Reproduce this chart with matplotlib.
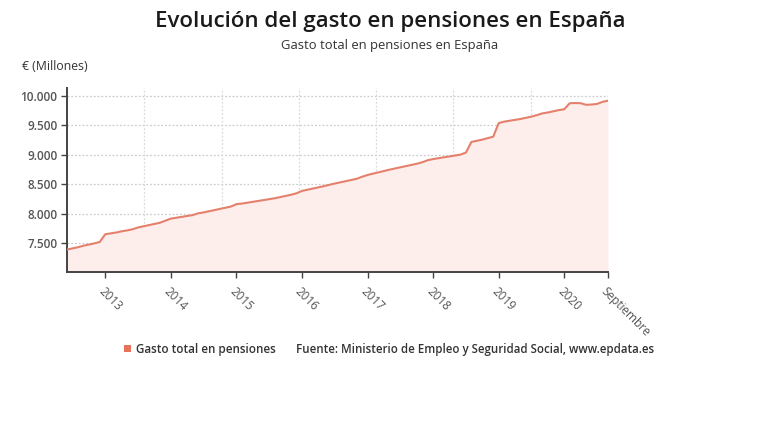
import matplotlib
matplotlib.use("Agg")
import matplotlib.pyplot as plt
import numpy as np

plt.rcParams['font.family'] = ['Open Sans', 'DejaVu Sans']

title = "Evolución del gasto en pensiones en España"
subtitle = "Gasto total en pensiones en España"
y_unit = "€ (Millones)"
series_name = "Gasto total en pensiones"
source = "Fuente: Ministerio de Empleo y Seguridad Social, www.epdata.es"

# Monthly values, June 2012 - September 2020 (millions of euros)
v2012 = [7390, 7410, 7430, 7455, 7475, 7495, 7520]
v2013 = [7650, 7665, 7680, 7700, 7715, 7735, 7765, 7785, 7805, 7825, 7845, 7880]
v2014 = [7915, 7930, 7945, 7960, 7975, 8005, 8020, 8040, 8060, 8080, 8100, 8120]
v2015 = [8160, 8170, 8185, 8200, 8215, 8230, 8245, 8260, 8280, 8300, 8320, 8345]
v2016 = [8385, 8405, 8425, 8445, 8465, 8488, 8510, 8530, 8550, 8570, 8590, 8625]
v2017 = [8655, 8678, 8700, 8722, 8745, 8765, 8785, 8805, 8825, 8845, 8870, 8905]
v2018 = [8925, 8940, 8955, 8970, 8985, 9000, 9035, 9215, 9235, 9255, 9280, 9305]
v2019 = [9535, 9560, 9575, 9590, 9605, 9625, 9645, 9670, 9700, 9715, 9735, 9755]
v2020 = [9770, 9872, 9875, 9872, 9845, 9850, 9860, 9895, 9915]
values = v2012 + v2013 + v2014 + v2015 + v2016 + v2017 + v2018 + v2019 + v2020

x_labels = ["2013", "2014", "2015", "2016", "2017", "2018", "2019", "2020", "Septiembre"]
x_label_month_index = [7, 19, 31, 43, 55, 67, 79, 91, 99]
y_ticks = [7500, 8000, 8500, 9000, 9500, 10000]
y_tick_labels = ["7.500", "8.000", "8.500", "9.000", "9.500", "10.000"]

line_color = "#e4806b"
fill_color = "#fdeeeb"
text_gray = "#555555"

fig = plt.figure(figsize=(7.8, 4.4), dpi=100)
fig.patch.set_facecolor("white")
ax = fig.add_axes([67/780, 1-272/440, (608-67)/780, (272-88)/440])

x = np.arange(len(values))
ymin, ymax = 7010, 10130
ax.fill_between(x, values, ymin, color=fill_color, lw=0, zorder=1)
ax.plot(x, values, color=line_color, lw=1.5, zorder=3)

ax.set_xlim(0, len(values)-1)
ax.set_ylim(ymin, ymax)

# grid
for yt in y_ticks:
    ax.axhline(yt, color="#cccccc", lw=0.9, ls=(0, (1.5, 1.5)), zorder=0)
for gx in np.linspace(0, len(values)-1, 8)[1:]:
    ax.axvline(gx, color="#dadada", lw=0.9, ls=(0, (1.5, 1.5)), zorder=0)

for s in ["top", "right"]:
    ax.spines[s].set_visible(False)
for s in ["left", "bottom"]:
    ax.spines[s].set_color("#444444")
    ax.spines[s].set_linewidth(1.4)

ax.set_yticks(y_ticks)
ax.set_yticklabels(y_tick_labels)
ax.set_xticks(x_label_month_index)
ax.set_xticklabels(x_labels, rotation=-45, ha="left", va="top", rotation_mode="anchor")
ax.tick_params(axis="y", length=4, width=1, color="#444444", labelsize=8.5,
               labelcolor=text_gray, pad=3)
ax.tick_params(axis="x", length=4, width=1, color="#444444", labelsize=8.5,
               labelcolor=text_gray, pad=5)
for lab in ax.get_yticklabels():
    lab.set_fontweight("semibold")

fig.text(0.5, 1-21/440, title, ha="center", va="center", fontsize=16,
         fontweight="semibold", color="#1a1a1a")
fig.text(0.5, 1-46/440, subtitle, ha="center", va="center", fontsize=9.4,
         color="#333333")
fig.text(22/780, 1-66/440, y_unit, ha="left", va="center", fontsize=8.8,
         color="#333333")

# legend
fig.patches.append(matplotlib.patches.Rectangle((124/780, 1-352/440), 7/780, 7/440,
                   transform=fig.transFigure, color="#e8735a", lw=0))
fig.text(136/780, 1-349/440, series_name, ha="left", va="center", fontsize=8.4,
         color="#333333", fontweight="semibold")
fig.text(296/780, 1-349/440, source, ha="left", va="center", fontsize=8.3,
         color="#333333", fontweight="semibold")

fig.savefig("out.png", dpi=100, facecolor="white")
